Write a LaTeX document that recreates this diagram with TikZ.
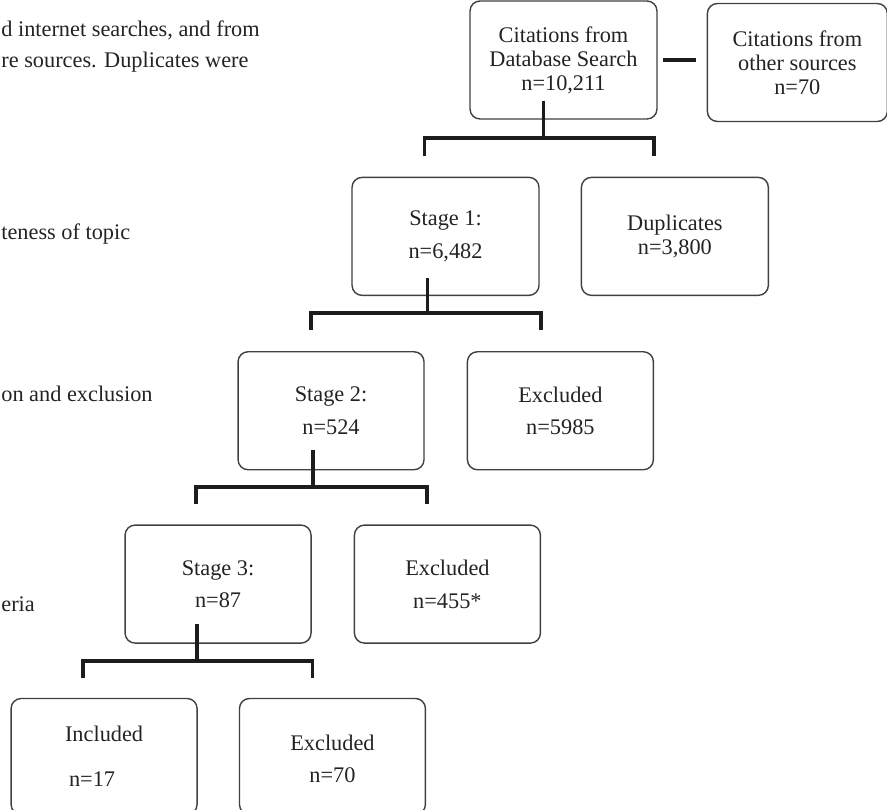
\documentclass[tikz,border=0pt]{standalone}
\usepackage{fontspec}
\setmainfont{Liberation Serif}
\usepackage{xcolor}
\definecolor{boxgray}{RGB}{64, 64, 64}
\definecolor{textgray}{RGB}{35, 35, 35}
\definecolor{linedark}{RGB}{28, 28, 28}
\usepackage{tikz}
\usetikzlibrary{positioning, calc}

\begin{document}
\begin{tikzpicture}[x=0.02cm, y=-0.02cm,
        block/.style={rectangle, draw=boxgray, line width=0.8pt, rounded corners=0.2cm, minimum width=3.72cm, minimum height=2.36cm, inner sep=0pt, align=center, text=textgray, font=\fontsize{12.7}{13.6}\selectfont},
        side/.style={inner sep=0pt, anchor=base west, text=textgray, font=\fontsize{12.7}{13.6}\selectfont},
        line/.style={draw=linedark, line width=2.2pt}]
        \useasboundingbox (0,0) rectangle (887,810);

        % left column, cut off at the page edge
        \node [side] (note1) at (1,37) {d internet searches, and from};
        \node [side] (note2) at (1,68) {re sources. Duplicates were};
        \node [side] (note3) at (1,240) {teness of topic};
        \node [side] (note4) at (1,402) {on and exclusion};
        \node [side] (note5) at (1,612) {eria};

        % flow boxes
        \node [block, minimum width=3.74cm] (dbsearch) at (563.5,60) {Citations from\\Database Search\\n=10,211};
        \node [block, minimum width=3.6cm, right=0.98cm of dbsearch, yshift=-0.05cm] (othersrc) {Citations from\\other sources\\n=70};
        \node [block, minimum width=3.74cm, below=1.14cm of dbsearch, xshift=-2.36cm] (stage1) {Stage 1:\\[5pt]n=6,482};
        \node [block, minimum width=3.74cm, right=0.82cm of stage1] (dups) {Duplicates\\n=3,800};
        \node [block, below=1.1cm of stage1, xshift=-2.29cm] (stage2) {Stage 2:\\[5pt]n=524};
        \node [block, right=0.84cm of stage2] (excl2) {Excluded\\[5pt]n=5985};
        \node [block, below=1.08cm of stage2, xshift=-2.26cm] (stage3) {Stage 3:\\[5pt]n=87};
        \node [block, right=0.84cm of stage3] (excl3) {Excluded\\[5pt]n=455*};
        \node [block, minimum height=2.32cm, below=1.08cm of stage3, xshift=-2.28cm] (incl) {Included\\[12pt]n=17\hspace*{0.48cm}};
        \node [block, minimum height=2.32cm, right=0.82cm of incl] (excl4) {\\[-2pt]Excluded\\[5pt]n=70};

        % connectors
        \path [line] ($(dbsearch.east)+(5,0)$) -- ($(othersrc.west |- dbsearch.east)+(-11,0)$);

        \path [line] ($(dbsearch.south)+(-20,-19)$) -- ($(dbsearch.south)+(-20,18)$);
        \path [line] ($(stage1.north)+(-21,-21)$) |- ($(dbsearch.south)+(-20,18)$) -| ($(dups.north)+(-21,-21)$);

        \path [line] ($(stage1.south)+(-18,-18)$) -- ($(stage1.south)+(-18,17)$);
        \path [line] ($(stage2.north)+(-20,-21)$) |- ($(stage1.south)+(-18,17)$) -| ($(excl2.north)+(-19,-21)$);

        \path [line] ($(stage2.south)+(-18,-20)$) -- ($(stage2.south)+(-18,17)$);
        \path [line] ($(stage3.north)+(-22,-20)$) |- ($(stage2.south)+(-18,17)$) -| ($(excl3.north)+(-20,-20)$);

        \path [line] ($(stage3.south)+(-21,-20)$) -- ($(stage3.south)+(-21,17)$);
        \path [line] ($(incl.north)+(-21,-20)$) |- ($(stage3.south)+(-21,17)$) -| ($(excl4.north)+(-20,-20)$);
    \end{tikzpicture}
\end{document}
